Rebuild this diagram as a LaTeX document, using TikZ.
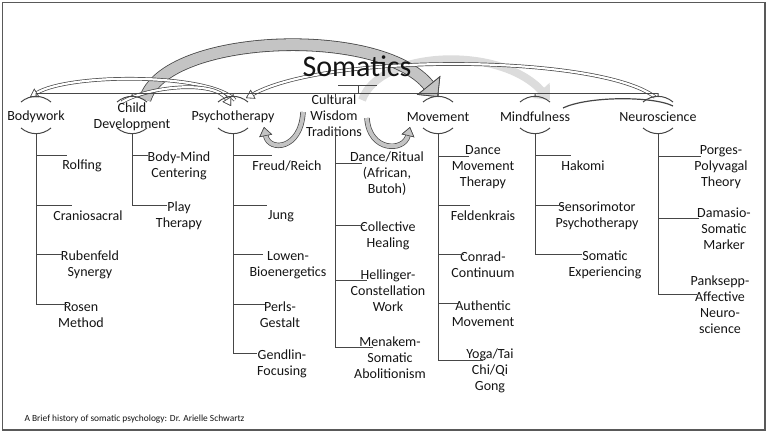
\documentclass[tikz,border=0pt]{standalone}
\usepackage{fontspec}
\setmainfont{Carlito}
\usepackage{tikz}
\usetikzlibrary{positioning,arrows.meta,calc,backgrounds}
\definecolor{LineGray}{RGB}{70,70,70}
\definecolor{ArrowFill}{RGB}{196,196,196}
\definecolor{ArrowLight}{RGB}{220,220,220}
\definecolor{Ink}{RGB}{20,20,20}

\begin{document}
\begin{tikzpicture}[
  x=1pt, y=-1pt,
  font=\fontsize{14}{16}\selectfont,
  cat/.style={align=center, inner sep=0pt, text=Ink},
  leaf/.style={align=center, inner sep=0pt, text=Ink},
  tree/.style={draw=LineGray, line width=1pt},
  bigarrow/.style={draw=ArrowFill, line width=11pt,
    preaction={draw=LineGray, line width=12.6pt},
    -{Triangle[length=15pt, width=30pt, line width=0.8pt, color=LineGray, fill=ArrowFill]}},
  lightarrow/.style={draw=ArrowLight, line width=8pt,
    -{Triangle[length=13pt, width=22pt]}},
  thinarrow/.style={draw=white, line width=2.2pt,
    preaction={draw=LineGray, line width=3.6pt},
    -{Triangle[length=8pt, width=10pt, line width=0.6pt, color=LineGray, fill=white]}},
  uarrow/.style={draw=ArrowFill, line width=4pt,
    preaction={draw=LineGray, line width=5.4pt},
    -{Triangle[length=9pt, width=13pt, line width=0.6pt, color=LineGray, fill=ArrowFill]}}
]
\useasboundingbox (0,0) rectangle (768,436);
\draw[draw=black!65, line width=1.6pt] (2.5,2.5) rectangle (765,430);

% Title and top level
\node[text=Ink, font=\fontsize{30}{36}\selectfont] (som) at (357,66) {Somatics};
\coordinate (somJ) at (358,93);

\node[cat] (bw) at (36,117) {Bodywork};
\node[cat] (cd) at (132,116.5) {Child\\Development};
\node[cat] (ps) at (233,117) {Psychotherapy};
\node[cat] (cw) at (334,116) {Cultural\\Wisdom\\Traditions};
\node[cat] (mv) at (438,117) {Movement};
\node[cat] (mf) at (535,117) {Mindfulness};
\node[cat] (ns) at (658,117) {Neuroscience};

% junctions on the main line and trunk tops
\coordinate (bwJ) at (36,93);
\coordinate (cdJ) at (132,93);
\coordinate (psJ) at (233,93);
\coordinate (cwJ) at (335,93);
\coordinate (mvJ) at (438,93);
\coordinate (mfJ) at (535,93);
\coordinate (nsJ) at (658,93);
\coordinate (bwT) at (36,133);
\coordinate (cdT) at (132,133);
\coordinate (psT) at (233,133);
\coordinate (cwT) at (335,128);
\coordinate (mvT) at (438,133);
\coordinate (mfT) at (535,133);
\coordinate (nsT) at (658,133);

% Bodywork
\node[leaf] (rolf) at (82,166) {Rolfing};
\node[leaf] (cran) at (88,216) {Craniosacral};
\node[leaf] (rub) at (90,265) {Rubenfeld\\Synergy};
\node[leaf] (ros) at (81,315) {Rosen\\Method};
% Child Development
\node[leaf] (bmc) at (179,166) {Body-Mind\\Centering};
\node[leaf] (play) at (179,216) {Play\\Therapy};
% Psychotherapy
\node[leaf] (freud) at (287,166) {Freud/Reich};
\node[leaf] (jung) at (281,216) {Jung};
\node[leaf] (lowen) at (288,265) {Lowen-\\Bioenergetics};
\node[leaf] (perls) at (280,315) {Perls-\\Gestalt};
\node[leaf] (gendl) at (282,364) {Gendlin-\\Focusing};
% Cultural Wisdom Traditions
\node[leaf] (dance) at (387,174) {Dance/Ritual\\(African,\\Butoh)};
\node[leaf] (coll) at (388,236) {Collective\\Healing};
\node[leaf] (hell) at (388,291) {Hellinger-\\Constellation\\Work};
\node[leaf] (men) at (390,358) {Menakem-\\Somatic\\Abolitionism};
% Movement
\node[leaf] (dmt) at (483,167) {Dance\\Movement\\Therapy};
\node[leaf] (feld) at (483,216) {Feldenkrais};
\node[leaf] (conr) at (483,265) {Conrad-\\Continuum};
\node[leaf] (auth) at (483,314) {Authentic\\Movement};
\node[leaf] (yoga) at (490,371) {Yoga/Tai\\Chi/Qi\\Gong};
% Mindfulness
\node[leaf] (hak) at (583,166) {Hakomi};
\node[leaf] (senso) at (597,216) {Sensorimotor\\Psychotherapy};
\node[leaf] (sexp) at (605,265) {Somatic\\Experiencing};
% Neuroscience
\node[leaf] (porg) at (721,167) {Porges-\\Polyvagal\\Theory};
\node[leaf] (dam) at (724,229) {Damasio-\\Somatic\\Marker};
\node[leaf] (pank) at (720,305) {Panksepp-\\Affective\\Neuro-\\science};

\node[anchor=west, text=Ink, font=\fontsize{9.4}{11}\selectfont] (credit) at (21,419)
  {A Brief history of somatic psychology: Dr. Arielle Schwartz};

% --- hierarchy lines ---
\draw[tree] ($(somJ)+(-20,-8)$) -- ++(39,0) (somJ) -- ++(0,-8);
\draw[tree] (bwJ) -- (nsJ);
\draw[tree] (bwJ) -- ++(0,4) ($(bwJ)+(-15,9)$) to[bend left=40] ++(30,0) ($(bwJ)+(-15,35)$) to[bend right=40] ++(30,0);
\draw[tree] (cdJ) -- ++(0,4) ($(cdJ)+(-15,9)$) to[bend left=40] ++(30,0) ($(cdJ)+(-15,35)$) to[bend right=40] ++(30,0);
\draw[tree] (psJ) -- ++(0,4) ($(psJ)+(-15,9)$) to[bend left=40] ++(30,0) ($(psJ)+(-15,35)$) to[bend right=40] ++(30,0);
\draw[tree] (cwJ) -- ++(0,4);
\draw[tree] (mvJ) -- ++(0,4) ($(mvJ)+(-15,9)$) to[bend left=40] ++(30,0) ($(mvJ)+(-15,35)$) to[bend right=40] ++(30,0);
\draw[tree] (mfJ) -- ++(0,4) ($(mfJ)+(-15,9)$) to[bend left=40] ++(30,0) ($(mfJ)+(-15,35)$) to[bend right=40] ++(30,0);
\draw[tree] (nsJ) -- ++(0,4) ($(nsJ)+(-15,9)$) to[bend left=40] ++(30,0) ($(nsJ)+(-15,35)$) to[bend right=40] ++(30,0);

\draw[tree] (bwT) |- ($(rolf)+(-15,-11)$);
\draw[tree] (bwT) |- ($(cran)+(-16,-11)$);
\draw[tree] (bwT) |- ($(rub)+(-27,-11)$);
\draw[tree] (bwT) |- ($(ros)+(-14,-11)$);
\draw[tree] (cdT) |- ($(bmc)+(-31,-11)$);
\draw[tree] (cdT) |- ($(play)+(-12,-11)$);
\draw[tree] (psT) |- ($(freud)+(-15,-11)$);
\draw[tree] (psT) |- ($(jung)+(-14,-11)$);
\draw[tree] (psT) |- ($(lowen)+(-25,-11)$);
\draw[tree] (psT) |- ($(perls)+(-15,-11)$);
\draw[tree] (psT) |- ($(gendl)+(-25,-11)$);
\draw[tree] (cwT) |- ($(dance)+(-25,-11)$);
\draw[tree] (cwT) |- ($(coll)+(-23,-11)$);
\draw[tree] (cwT) |- ($(hell)+(-21,-11)$);
\draw[tree] (cwT) |- ($(men)+(-17,-11)$);
\draw[tree] (mvT) |- ($(dmt)+(-14,-11)$);
\draw[tree] (mvT) |- ($(feld)+(-13,-11)$);
\draw[tree] (mvT) |- ($(conr)+(-19,-11)$);
\draw[tree] (mvT) |- ($(auth)+(-25,-11)$);
\draw[tree] (mvT) |- ($(yoga)+(-7,-11)$);
\draw[tree] (mfT) |- ($(hak)+(-12,-11)$);
\draw[tree] (mfT) |- ($(senso)+(-33,-11)$);
\draw[tree] (mfT) |- ($(sexp)+(-23,-11)$);
\draw[tree] (nsT) |- ($(porg)+(-20,-11)$);
\draw[tree] (nsT) |- ($(dam)+(-25,-11)$);
\draw[tree] (nsT) |- ($(pank)+(-23,-11)$);

% --- influence arrows (behind the chart) ---
\begin{scope}[on background layer]
\draw[lightarrow] ($(cw)+(28,-16)$) .. controls +(18,-50) and +(-50,-55) .. ($(mfJ)+(15,7)$);
\draw[bigarrow] ($(cd)+(13,-17)$) .. controls +(20,-66) and +(-58,-72) .. ($(mvJ)+(0,4)$);
\draw[thinarrow] ($(nsJ)+(-3,4)$) .. controls +(-55,-42) and +(84,-46) .. ($(psJ)+(13,5)$);
\draw[thinarrow] ($(psJ)+(2,7)$) .. controls +(-25,-27) and +(40,-24) .. ($(bwJ)+(-6,4)$);
\draw[thinarrow] ($(cd)+(-10,-14.5)$) .. controls +(28,-16) and +(-16,-26) .. ($(ps)+(-2,-11)$);
\draw[tree, line width=1.2pt] ($(mf)+(28,-9)$) .. controls +(25,-12) and +(-20,-10) .. ($(ns)+(15,-11)$);
\draw[uarrow] ($(cw)+(-31,-4)$) .. controls +(-2,38) and +(5,25) .. ($(ps)+(31,10)$);
\draw[uarrow] ($(cw)+(33,2)$) .. controls +(2,34) and +(-6,25) .. ($(mv)+(-28,10)$);
\end{scope}

\end{tikzpicture}
\end{document}
